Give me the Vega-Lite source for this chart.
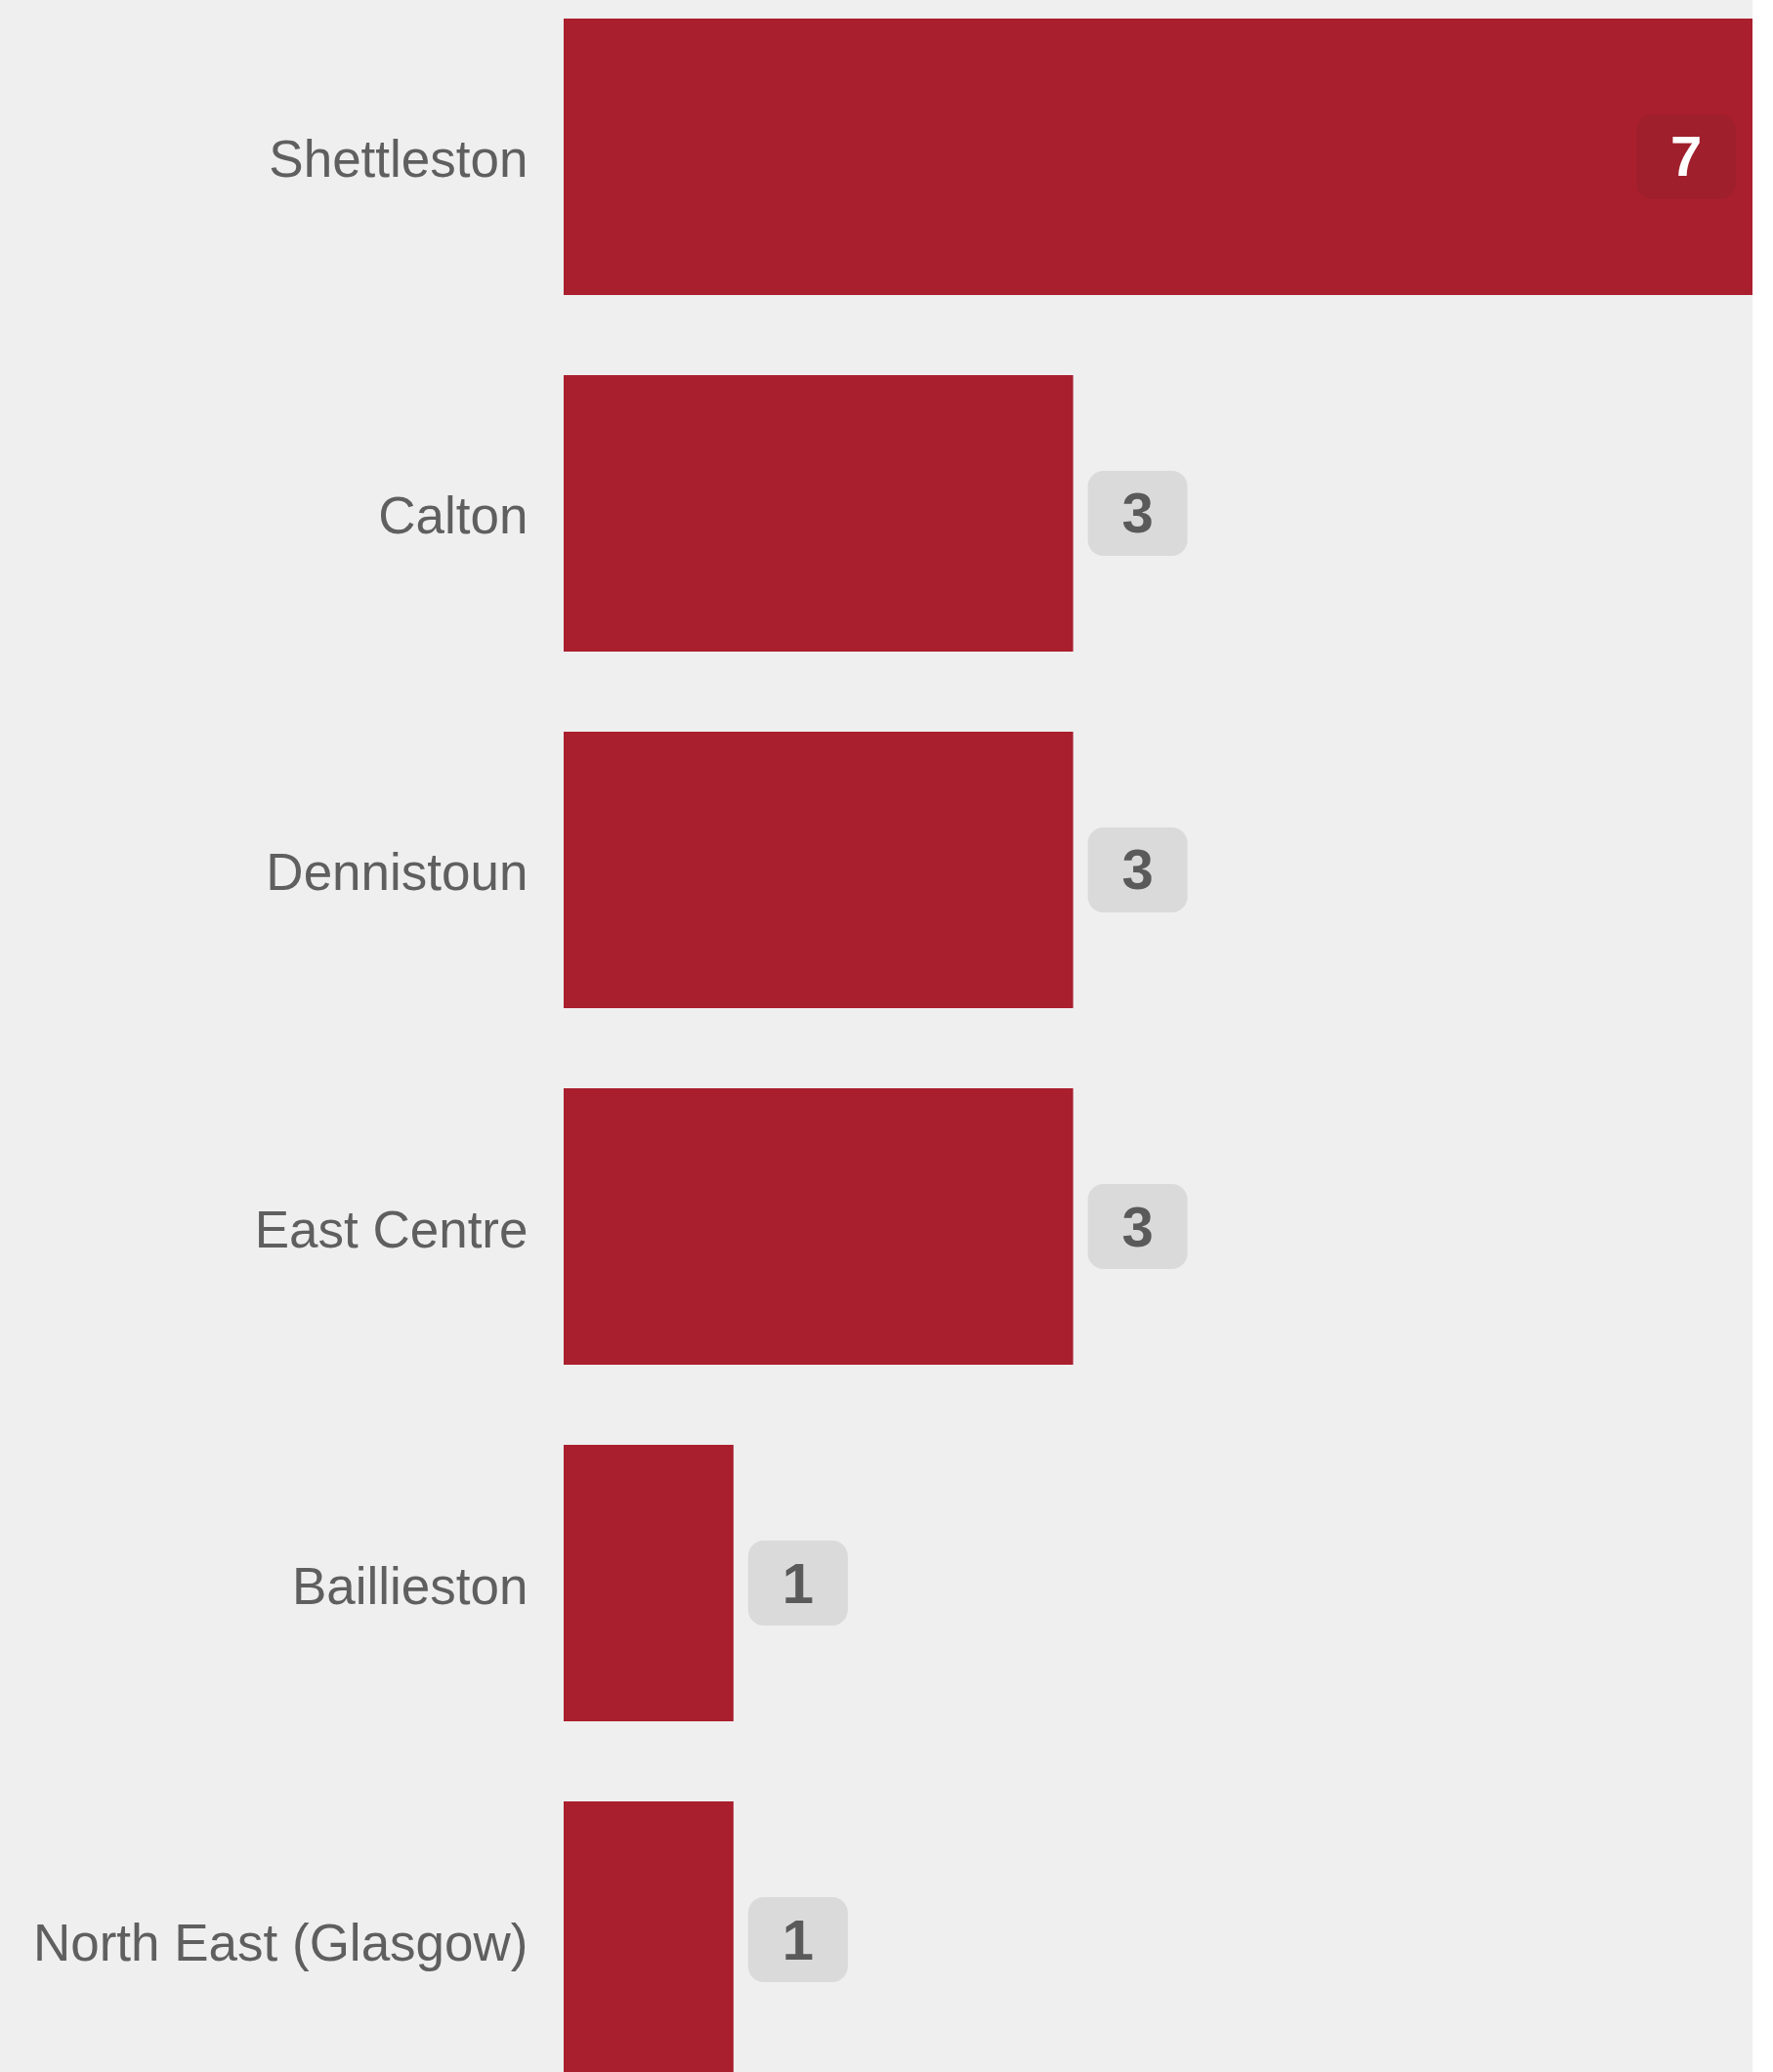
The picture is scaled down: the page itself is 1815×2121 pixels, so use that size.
{
  "$schema": "https://vega.github.io/schema/vega-lite/v6.json",
  "width": 1217,
  "height": 2146,
  "padding": 0,
  "background": "#efefef",
  "config": {"view": {"stroke": null}},
  "data": {"values": [
    {"area": "Shettleston", "value": 7, "inside": true},
    {"area": "Calton", "value": 3, "inside": false},
    {"area": "Dennistoun", "value": 3, "inside": false},
    {"area": "East Centre", "value": 3, "inside": false},
    {"area": "Baillieston", "value": 1, "inside": false},
    {"area": "North East (Glasgow)", "value": 1, "inside": false}
  ]},
  "encoding": {
    "y": {"field": "area", "type": "nominal", "sort": null,
      "scale": {"paddingInner": 0.225, "paddingOuter": 0.052},
      "axis": {"title": null, "domain": false, "ticks": false, "labelPadding": 37,
        "labelFont": "Liberation Sans", "labelFontSize": 53, "labelColor": "#5f5f5f",
        "labelOffset": 5,
        "minExtent": 577, "maxExtent": 577, "labelLimit": 600}},
    "x": {"field": "value", "type": "quantitative", "scale": {"domain": [0, 7], "nice": false},
      "axis": null}
  },
  "layer": [
    {"mark": {"type": "bar", "color": "#aa1f2e"}},
    {"transform": [{"filter": "!datum.inside"}],
     "layer": [
       {"mark": {"type": "rect", "width": 102, "height": 87, "cornerRadius": 16, "color": "#dadada", "xOffset": 66}},
       {"mark": {"type": "text", "font": "Liberation Sans", "fontWeight": "bold", "fontSize": 58, "color": "#5a5a5a", "dx": 66, "dy": 3, "baseline": "middle", "align": "center"},
        "encoding": {"text": {"field": "value", "type": "quantitative"}}}
     ]},
    {"transform": [{"filter": "datum.inside"}],
     "layer": [
       {"mark": {"type": "rect", "width": 102, "height": 87, "cornerRadius": 16, "color": "#a01f2c", "xOffset": -68}},
       {"mark": {"type": "text", "font": "Liberation Sans", "fontWeight": "bold", "fontSize": 58, "color": "#ffffff", "dx": -68, "dy": 3, "baseline": "middle", "align": "center"},
        "encoding": {"text": {"field": "value", "type": "quantitative"}}}
     ]}
  ]
}
